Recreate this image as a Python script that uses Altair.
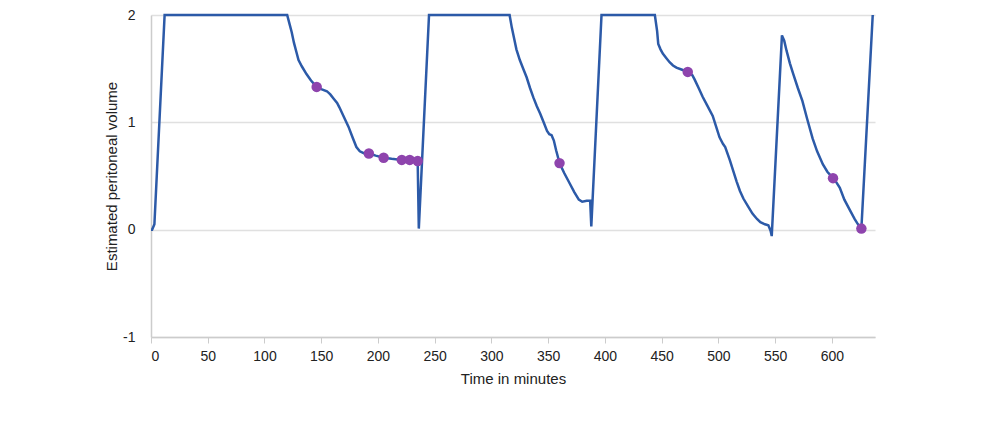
import altair as alt
import pandas as pd

# Estimated peritoneal volume trace
time_min = [0, 1, 3, 12, 120, 122, 124, 126, 128, 130, 133, 137, 141, 146, 150, 155, 158, 161, 164, 166,
            170, 174, 178, 181, 184, 188, 192, 198, 205, 212, 221, 228, 235, 236, 245,
            316, 318, 320, 322, 325, 328, 331, 334, 337, 340, 343, 346, 349, 351, 353, 355, 357, 360,
            364, 369, 373, 377, 380, 384, 387, 388, 397,
            444, 446, 447, 449, 451, 454, 457, 460, 463, 468, 473, 477, 479, 483, 486, 490, 495, 498,
            501, 504, 506, 510, 513, 516, 519, 522, 526, 530, 534, 537, 541, 544, 546, 547, 556,
            558, 560, 563, 566, 570, 574, 578, 583, 587, 592, 596, 601, 604, 607, 611, 616, 620, 623,
            626, 636]
volume = [0.0, 0.0, 0.05, 2.0, 2.0, 1.92, 1.84, 1.74, 1.66, 1.58, 1.52, 1.45, 1.39, 1.33, 1.31, 1.29, 1.26,
          1.22, 1.18, 1.14, 1.05, 0.96, 0.85, 0.77, 0.73, 0.71, 0.71, 0.69, 0.67, 0.66, 0.65, 0.65, 0.64,
          0.01, 2.0,
          2.0, 1.88, 1.78, 1.68, 1.58, 1.50, 1.42, 1.32, 1.23, 1.15, 1.08, 1.00, 0.92, 0.89, 0.88, 0.83,
          0.74, 0.62, 0.53, 0.43, 0.35, 0.28, 0.26, 0.27, 0.27, 0.03, 2.0,
          2.0, 1.85, 1.73, 1.68, 1.64, 1.60, 1.56, 1.53, 1.51, 1.49, 1.47, 1.44, 1.40, 1.31, 1.24, 1.16,
          1.06, 0.96, 0.86, 0.80, 0.77, 0.65, 0.55, 0.45, 0.36, 0.29, 0.22, 0.15, 0.10, 0.07, 0.05, 0.04,
          -0.01, -0.06, 1.81,
          1.76, 1.67, 1.55, 1.45, 1.32, 1.20, 1.04, 0.85, 0.73, 0.61, 0.54, 0.48, 0.44, 0.39, 0.28, 0.18,
          0.10, 0.05, 0.01, 2.0]

# Highlighted measurement points
dot_time = [146, 192, 205, 221, 228, 235, 360, 473, 601, 626]
dot_volume = [1.33, 0.71, 0.67, 0.65, 0.65, 0.64, 0.62, 1.47, 0.48, 0.01]

x_ticks = [0, 50, 100, 150, 200, 250, 300, 350, 400, 450, 500, 550, 600]
y_ticks = [-1, 0, 1, 2]

line_df = pd.DataFrame({"t": time_min, "v": volume, "i": list(range(len(time_min)))})
dot_df = pd.DataFrame({"t": dot_time, "v": dot_volume})

FONT = "Liberation Sans"

x_enc = alt.X("t:Q", scale=alt.Scale(domain=[0, 638], nice=False, zero=False),
              axis=alt.Axis(title="Time in minutes", values=x_ticks, grid=False,
                            tickSize=6, labelPadding=6, titlePadding=8,
                            domainColor="#cccccc", tickColor="#cccccc", domainWidth=1.5))
y_enc = alt.Y("v:Q", scale=alt.Scale(domain=[-1, 2], nice=False, zero=False),
              axis=alt.Axis(title="Estimated peritoneal volume", values=y_ticks, grid=True,
                            ticks=False, tickSize=0, labelPadding=16, titlePadding=3,
                            labelExpr="'' + datum.value",
                            domainColor="#cccccc", domainWidth=1.5,
                            gridColor="#e0e0e0", gridWidth=1.5))

line = alt.Chart(line_df).mark_line(color="#2c5aa8", strokeWidth=2.5).encode(
    x=x_enc, y=y_enc, order="i:Q"
)
dots = alt.Chart(dot_df).mark_circle(color="#8e44ad", size=110, opacity=1).encode(
    x="t:Q", y="v:Q"
)

chart = alt.layer(line, dots).properties(
    width=724, height=322,
    autosize=alt.AutoSizeParams(type="none"),
    padding={"left": 143, "top": 7, "right": 110, "bottom": 70},
).configure_view(stroke=None).configure_axis(
    labelFont=FONT, titleFont=FONT, labelFontSize=14, titleFontSize=15,
    labelColor="#222222", titleColor="#222222", titleFontWeight="normal"
)

chart.save("out.html", embed_options={"renderer": "svg", "actions": False})
